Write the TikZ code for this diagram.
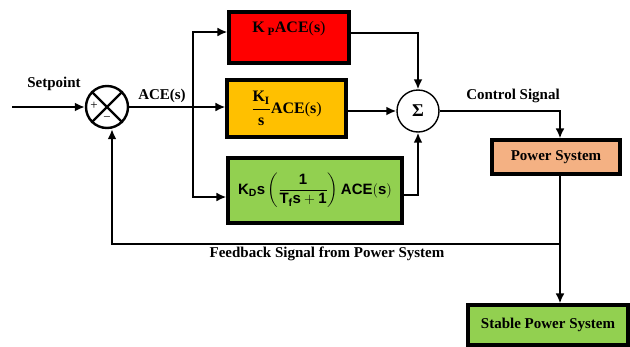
\documentclass[tikz,border=0pt]{standalone}
\usepackage{amsmath}
\usepackage{fontspec}
\setmainfont{Liberation Serif}
\setsansfont{Liberation Sans}
\usetikzlibrary{arrows.meta}

\definecolor{redbox}{RGB}{255,0,0}
\definecolor{yellowbox}{RGB}{255,192,0}
\definecolor{greenbox}{RGB}{146,208,80}
\definecolor{peachbox}{RGB}{244,177,131}

\tikzset{
	block/.style={draw=black, line width=3.2pt, inner sep=0pt},
	sumcirc/.style={draw=black, circle, line width=2.4pt, minimum size=42pt, inner sep=0pt, fill=white},
	wire/.style={line width=2.8pt},
	lbl/.style={font=\fontsize{15}{18}\selectfont\bfseries}
}

\begin{document}
\begin{tikzpicture}[x=1pt, y=-1pt, >={Latex[length=10pt,width=9pt]}]
			\useasboundingbox (0,0) rectangle (630,346);
			
			\node[sumcirc] (cmp) at (107,107) {};
			\node[sumcirc, line width=1.4pt] (sig) at (418,111) {\fontsize{18}{20}\selectfont\bfseries Σ};
			
			\node[block, fill=redbox, minimum width=120pt, minimum height=51pt] (kp) at (289,37.5) {};
			\node[font=\fontsize{16}{19}\selectfont\bfseries] (kptext) at (289,29) {K\,\textsubscript{P}ACE\textmd{(}s\textmd{)}};
			\node[block, fill=yellowbox, minimum width=119pt, minimum height=57pt] (ki) at (286.5,108.5)
				{\fontsize{16}{19}\selectfont\bfseries $\dfrac{\text{K}_{\text{I}}}{\text{s}}$ACE\textmd{(}s\textmd{)}};
			\node[block, fill=greenbox, minimum width=174pt, minimum height=65pt] (kd) at (315,190.5)
				{\fontsize{15}{18}\selectfont\sffamily\bfseries $\text{K}_{\text{D}}\text{s}\left(\dfrac{\text{1}}{\text{T}_{\text{f}}\text{s}+\text{1}}\right)\text{ACE}(\text{s})$};
			\node[block, fill=peachbox, minimum width=128pt, minimum height=34pt, lbl] (ps) at (556,157) {Power System};
			\node[block, fill=greenbox, minimum width=160pt, minimum height=40pt, lbl] (sps) at (548,325) {Stable Power System};
			
			% comparator cross and signs
			\draw[line width=2.4pt] (cmp.north west) -- (cmp.south east);
			\draw[line width=2.4pt] (cmp.north east) -- (cmp.south west);
			\node[font=\fontsize{13}{14}\selectfont] (plus) at (94,106) {+};
			\node[font=\fontsize{13}{14}\selectfont] (minus) at (107,119) {−};
			
			\coordinate (in) at (12,107);
			\coordinate (split) at (193,107);
			\coordinate (tap) at (560,244);
			
			\draw[wire, ->] (in) -- (cmp.west);
			\draw[wire, ->] (cmp.east) -- (ki.west |- cmp.east);
			\draw[wire, ->] (split) |- ([yshift=5.5pt]kp.west);
			\draw[wire, ->] (split) |- ([yshift=-6.5pt]kd.west);
			\draw[wire, ->] ([yshift=4.5pt]kp.east) -| (sig.north);
			\draw[wire, ->] (ki.east |- sig.west) -- (sig.west);
			\draw[wire, ->] ([yshift=-4.5pt]kd.east) -| (sig.south);
			\draw[wire, ->] (sig.east) -| ([xshift=4pt]ps.north);
			\draw[wire, ->] (ps.south -| tap) -- (tap |- sps.north);
			\draw[wire, ->] (tap) -| ([xshift=5pt]cmp.south);
			
			\node[lbl] (setp) at (54,84) {Setpoint};
			\node[lbl] (ace) at (162,96) {ACE(s)};
			\node[lbl] (ctrl) at (513,96) {Control Signal};
			\node[lbl] (fb) at (327,254) {Feedback Signal from Power System};
		\end{tikzpicture}
\end{document}
